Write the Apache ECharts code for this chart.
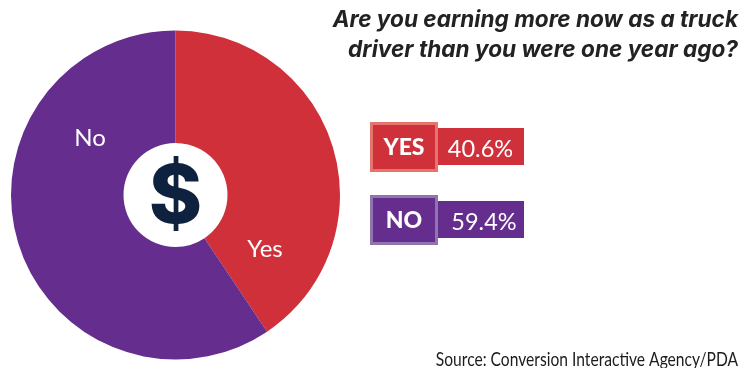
<!DOCTYPE html>
<html>
<head>
<meta charset="utf-8">
<style>
  html, body { margin: 0; padding: 0; background: #fff; }
  #chart { width: 750px; height: 375px; }
</style>
<script src="https://cdn.jsdelivr.net/npm/echarts@6/dist/echarts.min.js"></script>
</head>
<body>
<div id="chart"></div>
<script>
var categories = ["Yes", "No"];
var boxLabels = ["YES", "NO"];
var values = [40.6, 59.4];
var titleLines = ["Are you earning more now as a truck", "driver than you were one year ago?"];
var sourceText = "Source: Conversion Interactive Agency/PDA";

var colors = ["#d0303a", "#652d8e"];
var borderColors = ["#e4756c", "#8f75ae"];
var labelSpots = [[265, 249], [90, 138]];
var boxTops = [122, 195];
var font = "Inter";

var myChart = echarts.init(document.getElementById("chart"));

var graphics = [];
// 底部裁切
graphics.push({ type: "rect", z: 10, shape: { x: 420, y: 368, width: 330, height: 7 }, style: { fill: "#fff" } });
graphics.push({
  type: "text", z: 5, x: 738, y: 360, scaleX: 0.8,
  style: { text: sourceText, fill: "#1c1c1c", font: "19.5px Lato", textAlign: "right", textVerticalAlign: "middle" }
});
titleLines.forEach(function (line, i) {
  graphics.push({
    type: "text", z: 5, x: 738, y: 20 + i * 30,
    style: { text: line, fill: "#222", font: "italic 700 22.6px " + font, textAlign: "right", textVerticalAlign: "middle" }
  });
});
boxLabels.forEach(function (label, i) {
  var top = boxTops[i];
  graphics.push({ type: "rect", z: 3, shape: { x: 438, y: top + 6, width: 86, height: 37 }, style: { fill: colors[i] } });
  graphics.push({
    type: "rect", z: 4, shape: { x: 371.5, y: top + 1.5, width: 65, height: 47 },
    style: { fill: colors[i], stroke: borderColors[i], lineWidth: 3 }
  });
  graphics.push({
    type: "text", z: 5, x: 404, y: top + 26,
    style: { text: label, fill: "#fff", font: "900 23px Lato", textAlign: "center", textVerticalAlign: "middle" }
  });
  graphics.push({
    type: "text", z: 5, x: i === 0 ? 480.5 : 484, y: top + 27,
    style: { text: values[i].toFixed(1) + "%", fill: "#fff", font: "400 23.5px Lato", textAlign: "center", textVerticalAlign: "middle" }
  });
});
graphics.push({
  type: "text", z: 5, x: 175.5, y: 199,
  style: { text: "$", fill: "#0e2240", font: "800 81px " + font, textAlign: "center", textVerticalAlign: "middle" }
});

var option = {
  animation: false,
  backgroundColor: "#fff",
  color: colors,
  series: [
    {
      type: "pie",
      center: [175.5, 195],
      radius: [52, 164.5],
      startAngle: 90,
      clockwise: true,
      silent: true,
      data: categories.map(function (name, i) {
        return { name: name, value: values[i] };
      }),
      label: {
        position: "inside",
        formatter: "{b}",
        color: "#fff",
        fontFamily: "Lato",
        fontSize: 24
      },
      labelLine: { show: false },
      labelLayout: function (params) {
        return { x: labelSpots[params.dataIndex][0], y: labelSpots[params.dataIndex][1], align: "center", verticalAlign: "middle" };
      }
    }
  ],
  graphic: graphics
};
myChart.setOption(option);
</script>
</body>
</html>
